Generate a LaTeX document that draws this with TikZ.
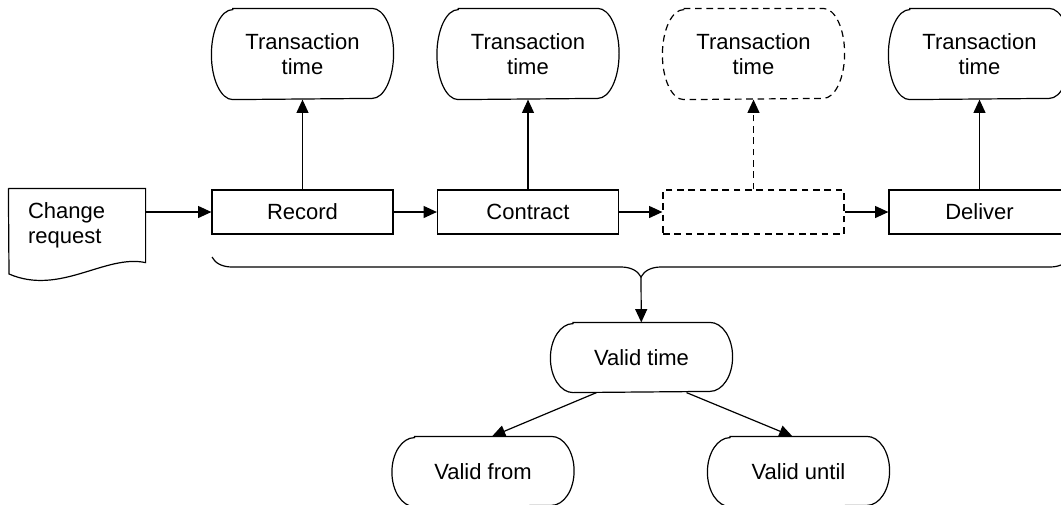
\documentclass[tikz,border=0pt]{standalone}
\usepackage{fontspec}
\setmainfont{Liberation Sans}
\usetikzlibrary{arrows.meta}
\usetikzlibrary{decorations.pathreplacing}

\tikzset{
  stage/.style={draw, rectangle, minimum width=135.75pt, minimum height=33pt, inner sep=0pt},
  timebox/.style={rectangle, minimum width=135.75pt, minimum height=67.5pt, inner sep=0pt, align=center},
  validbox/.style={rectangle, minimum width=135.75pt, minimum height=51.75pt, inner sep=0pt},
  gapline/.style={dash pattern=on 5pt off 3.5pt},
  link/.style={-{Triangle[length=10pt,width=9pt]}},
}
% outline with half-elliptic ends round a named node: [opts]{node}{x radius}{y radius}
\newcommand{\termline}[4][]{%
  \draw[#1] ([xshift=#3]#2.north west) -- ([xshift=-#3]#2.north east)
    arc[start angle=90, end angle=-90, x radius=#3, y radius=#4]
    -- ([xshift=#3]#2.south west)
    arc[start angle=270, end angle=90, x radius=#3, y radius=#4] -- cycle;}

\begin{document}
\begin{tikzpicture}[x=0.75pt, y=0.75pt, line width=0.9pt, font=\fontsize{16.5}{18.75}\selectfont]
\useasboundingbox (0,0) rectangle (1061,-504);
\clip (0,0) rectangle (1061,-504);
% change request
\node[minimum width=102pt, minimum height=54.75pt, inner xsep=14.25pt, text width=73.5pt, align=left] (req) at (77,-225.5) {Change\\request};
\draw (req.north west) -- (req.north east) -- (req.south east) .. controls (105,-254) and (60,-296) .. (9,-274) -- (req.north west);
% stages
\node[stage] (rec) at (302.5,-212) {Record};
\node[stage] (con) at (528,-212) {Contract};
\node[stage, gapline] (gap) at (753.5,-212) {};
\node[stage] (del) at (979.5,-212) {Deliver};
% transaction times
\node[timebox] (t1) at (302.5,-54) {Transaction\\time};
\node[timebox] (t2) at (528,-54) {Transaction\\time};
\node[timebox] (t3) at (753.5,-54) {Transaction\\time};
\node[timebox] (t4) at (979.5,-54) {Transaction\\time};
\termline{t1}{16pt}{33.75pt}
\termline{t2}{16pt}{33.75pt}
\termline[gapline]{t3}{16pt}{33.75pt}
\termline{t4}{16pt}{33.75pt}
% valid times
\node[validbox] (vt) at (641.5,-357.5) {Valid time};
\node[validbox] (vf) at (483,-471.5) {Valid from};
\node[validbox] (vu) at (798.5,-471.5) {Valid until};
\termline{vt}{17pt}{25.875pt}
\termline{vf}{17pt}{25.875pt}
\termline{vu}{17pt}{25.875pt}
\coordinate (tip) at (641,-277);
\draw [link] (req.east |- rec.west) -- (rec.west);
\draw [link] (rec) -- (con);
\draw [link] (con) -- (gap);
\draw [link] (gap) -- (del);
\draw [link] (rec) -- (t1);
\draw [link] (con) -- (t2);
\draw [link, gapline] (gap) -- (t3);
\draw [link] (del) -- (t4);
\draw [decorate, decoration={brace, amplitude=15pt, mirror}] (212,-257) -- (1070,-257);
\draw [link] (tip) -- (vt);
\draw [link] ([xshift=-33.75pt]vt.south) -- ([xshift=6.75pt]vf.north);
\draw [link] ([xshift=33.75pt]vt.south) -- ([xshift=-4.5pt]vu.north);
\end{tikzpicture}
\end{document}
